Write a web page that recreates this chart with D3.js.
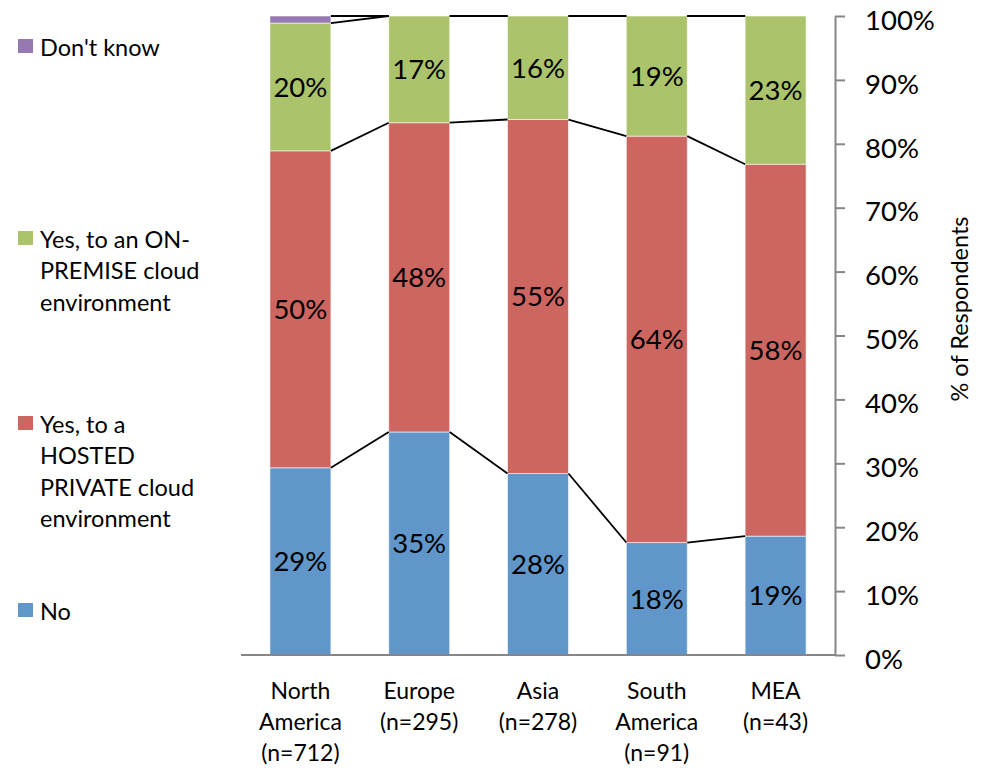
<!DOCTYPE html>
<html><head><meta charset="utf-8">
<script src="https://cdn.jsdelivr.net/npm/d3@7"></script>
<style>
body{margin:0;background:#fff}
svg{display:block}
text{font-family:Lato, "Open Sans", sans-serif; fill:#000}
</style>
</head><body>
<svg id="chart" width="984" height="768"></svg>
<script>
// ---- data ----
const categories = ["North\nAmerica\n(n=712)", "Europe\n(n=295)", "Asia\n(n=278)", "South\nAmerica\n(n=91)", "MEA\n(n=43)"];
const seriesKeys = ["No", "Hosted", "OnPremise", "DontKnow"];
const seriesLabels = ["No", "Yes, to a\nHOSTED\nPRIVATE cloud\nenvironment", "Yes, to an ON-\nPREMISE cloud\nenvironment", "Don't know"];
const noValues        = [29.3, 34.9, 28.4, 17.6, 18.6];
const hostedValues    = [49.6, 48.4, 55.4, 63.6, 58.2];
const onPremiseValues = [20.0, 16.7, 16.2, 18.8, 23.2];
const dontKnowValues  = [1.1, 0, 0, 0, 0];
const yTicks = [0, 10, 20, 30, 40, 50, 60, 70, 80, 90, 100];
const colors = ["#6096C9", "#CD6660", "#ABC36A", "#9679B2"];

// ---- build table ----
const valueArrays = [noValues, hostedValues, onPremiseValues, dontKnowValues];
const table = categories.map((c, i) => {
  const row = {cat: c};
  seriesKeys.forEach((k, j) => row[k] = valueArrays[j][i]);
  return row;
});
const stacked = d3.stack().keys(seriesKeys)(table);

const svg = d3.select("#chart");
const x = d3.scaleBand().domain(categories).range([241, 835]).paddingInner(0.487).paddingOuter(0.2435);
const y = d3.scaleLinear().domain([0, 100]).range([655, 16]);
const bw = x.bandwidth();
const AX = "#868686";

// bars
const layers = svg.append("g").selectAll("g").data(stacked).join("g")
  .attr("fill", (d, i) => colors[i]);
layers.selectAll("rect").data(d => d).join("rect")
  .attr("x", d => x(d.data.cat))
  .attr("y", d => y(d[1]))
  .attr("width", bw)
  .attr("height", d => Math.max(0, y(d[0]) - y(d[1])))
  .attr("stroke", "rgba(255,255,255,0.55)")
  .attr("stroke-width", 1);

// series lines
const lines = svg.append("g").attr("stroke", "#000").attr("stroke-width", 1.8);
stacked.forEach(s => {
  for (let i = 0; i < s.length - 1; i++) {
    lines.append("line")
      .attr("x1", x(categories[i]) + bw).attr("y1", y(s[i][1]))
      .attr("x2", x(categories[i + 1])).attr("y2", y(s[i + 1][1]));
  }
});

// data labels
stacked.forEach((s, si) => {
  if (seriesKeys[si] === "DontKnow") return;
  svg.append("g").selectAll("text").data(s).join("text")
    .attr("x", d => x(d.data.cat) + bw / 2)
    .attr("y", d => (y(d[0]) + y(d[1])) / 2)
    .attr("dy", "0.36em")
    .attr("text-anchor", "middle")
    .style("font-size", "27.5px")
    .text(d => Math.round(d[1] - d[0]) + "%");
});

// bottom axis line
svg.append("line").attr("x1", 241).attr("x2", 835).attr("y1", y(0)).attr("y2", y(0))
  .attr("stroke", AX).attr("stroke-width", 2);

// right axis
const yAxis = svg.append("g").attr("transform", "translate(835,0)")
  .call(d3.axisRight(y).tickValues(yTicks).tickFormat(d => d + "%").tickSize(10).tickSizeOuter(0).tickPadding(20));
yAxis.select(".domain").attr("stroke", AX).attr("stroke-width", 2);
yAxis.selectAll(".tick line").attr("stroke", AX).attr("stroke-width", 2);
yAxis.selectAll(".tick text").attr("dy", "0.48em").style("font-size", "27.5px").style("font-family", "Lato, sans-serif").attr("fill", "#000");

// axis title
svg.append("text").attr("transform", "translate(960,309) rotate(-90)")
  .attr("text-anchor", "middle").attr("dy", "0.35em").style("font-size", "23.5px")
  .text("% of Respondents");

// category labels
const catG = svg.append("g");
categories.forEach(c => {
  const t = catG.append("text").attr("text-anchor", "middle").style("font-size", "23px");
  c.split("\n").forEach((ln, k) => {
    t.append("tspan").attr("x", x(c) + bw / 2).attr("y", 699 + k * 31).text(ln);
  });
});

// legend (top to bottom: Don't know, On-premise, Hosted, No)
const legendOrder = [3, 2, 1, 0];
const legendBaselines = [56, 248, 433, 620];
const lg = svg.append("g");
legendOrder.forEach((si, k) => {
  const by = legendBaselines[k];
  lg.append("rect").attr("x", 18).attr("y", by - 17).attr("width", 15).attr("height", 14).attr("fill", colors[si]);
  const t = lg.append("text").style("font-size", "23.5px");
  seriesLabels[si].split("\n").forEach((ln, j) => {
    t.append("tspan").attr("x", 40).attr("y", by + j * 31.3).text(ln);
  });
});
</script>
</body></html>
